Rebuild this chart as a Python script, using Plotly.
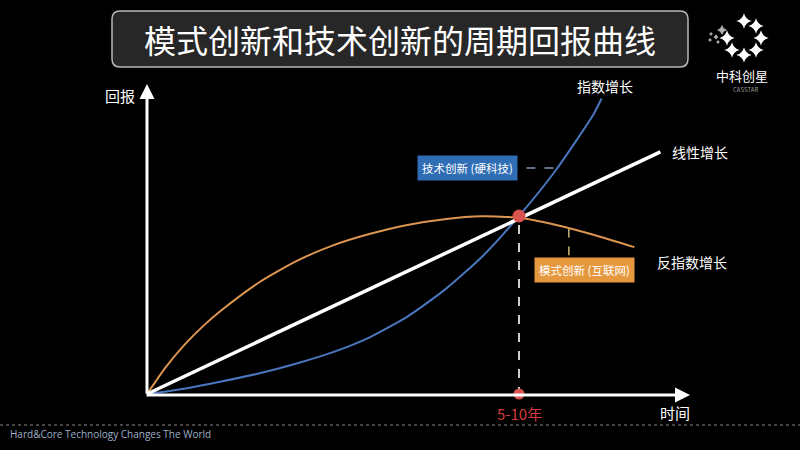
import math
import plotly.graph_objects as go

# ── Data (arbitrary units: crossing point = (10, 10)) ──
t_model = [0, 0.5, 1, 1.5, 2, 3, 4, 5, 6, 7, 8, 9, 10, 11, 12, 13.1]
r_model = [0, 1.5, 2.75, 3.8, 4.7, 6.25, 7.45, 8.35, 9.0, 9.5, 9.82, 9.98, 9.9, 9.5, 8.95, 8.25]

t_tech = [0, 1, 2, 3, 4, 5, 6, 7, 8, 9, 10, 11, 12, 12.22]
r_tech = [0, 0.3, 0.7, 1.15, 1.7, 2.35, 3.2, 4.35, 5.85, 7.7, 10.0, 12.6, 15.7, 16.6]

t_linear = [0, 13.8]
r_linear = [0, 13.6]

cross_t, cross_r = 10.0, 10.0
cross_label = "5-10年"

W, H = 800, 450
OX, OY = 147, 394          # pixel position of the origin
SX, SY = 37.2, 17.8        # pixels per unit


def paper(px, py):
    return px / W, 1 - py / H


fig = go.Figure()

# curves
fig.add_trace(go.Scatter(x=t_model, y=r_model, mode="lines",
                         line=dict(color="#dc9550", width=2, shape="spline", smoothing=0.6)))
fig.add_trace(go.Scatter(x=t_tech, y=r_tech, mode="lines",
                         line=dict(color="#4a76bd", width=2, shape="spline", smoothing=0.6)))
fig.add_trace(go.Scatter(x=t_linear, y=r_linear, mode="lines",
                         line=dict(color="white", width=3.5)))

# dashed guides
fig.add_trace(go.Scatter(x=[cross_t, cross_t], y=[cross_r - 0.5, 0], mode="lines",
                         line=dict(color="#cfcfcf", width=2, dash="dash")))
fig.add_trace(go.Scatter(x=[11.34, 11.34], y=[9.3, 7.8], mode="lines",
                         line=dict(color="#c9b679", width=1.5, dash="dash")))
fig.add_trace(go.Scatter(x=[10.2, 11.0], y=[12.7, 12.7], mode="lines",
                         line=dict(color="#8797ad", width=1.5, dash="dash")))

# crossing markers
fig.add_trace(go.Scatter(x=[cross_t], y=[cross_r], mode="markers",
                         marker=dict(color="#d9534f", size=13)))
fig.add_trace(go.Scatter(x=[cross_t], y=[0], mode="markers",
                         marker=dict(color="#d9534f", size=11)))

# logo stars (decoration)
cx, cy, rad = 744, 38, 17
star_x, star_y = [], []
for k in range(8):
    if k == 7:
        continue
    a = math.radians(90 - 45 * k)
    star_x.append((cx + rad * math.cos(a) - OX) / SX)
    star_y.append((OY - (cy - rad * math.sin(a))) / SY)
fig.add_trace(go.Scatter(x=star_x, y=star_y, mode="markers", cliponaxis=False,
                         marker=dict(symbol="star-diamond", color="white", size=11, line=dict(width=0))))
dots_px = [(722, 30, 6), (716, 37, 3), (711, 34, 2), (718, 42, 2), (710, 40, 2)]
fig.add_trace(go.Scatter(x=[(p[0] - OX) / SX for p in dots_px],
                         y=[(OY - p[1]) / SY for p in dots_px], mode="markers", cliponaxis=False,
                         marker=dict(symbol="star-diamond", color="white", size=[p[2] for p in dots_px])))

# title box with rounded corners
x0, x1, y0, y1, rr = 112, 688, 11, 67, 8


def pp(px, py):
    x, y = paper(px, py)
    return f"{x},{y}"


path = (f"M {pp(x0 + rr, y0)} L {pp(x1 - rr, y0)} Q {pp(x1, y0)} {pp(x1, y0 + rr)} "
        f"L {pp(x1, y1 - rr)} Q {pp(x1, y1)} {pp(x1 - rr, y1)} "
        f"L {pp(x0 + rr, y1)} Q {pp(x0, y1)} {pp(x0, y1 - rr)} "
        f"L {pp(x0, y0 + rr)} Q {pp(x0, y0)} {pp(x0 + rr, y0)} Z")
fig.add_shape(type="path", path=path, xref="paper", yref="paper",
              fillcolor="#272727", line=dict(color="#b8b8b8", width=1.5), layer="below")

# footer dotted rule
fig.add_shape(type="line", xref="paper", yref="paper", x0=0, x1=1,
              y0=paper(0, 425)[1], y1=paper(0, 425)[1],
              line=dict(color="#8a8a8a", width=1, dash="dot"))

CJK = "Noto Sans CJK SC"


def label(text, px, py, size=14, color="white", **kw):
    x, y = paper(px, py)
    fig.add_annotation(x=x, y=y, xref="paper", yref="paper", text=text, showarrow=False,
                       xanchor="center", yanchor="middle",
                       font=dict(family=CJK, size=size, color=color), **kw)


label("模式创新和技术创新的周期回报曲线", 400, 39, size=32)
label("回报", 120, 95, size=15)
label("时间", 675, 412, size=15)
label("指数增长", 605, 86, size=14)
label("线性增长", 700, 152, size=14)
label("反指数增长", 692, 262, size=14)
label("中科创星", 742, 76, size=13)
label("CASSTAR", 745, 90, size=6, color="#9a9a9a")
label("技术创新 (硬科技)", 467, 168, size=11.5, bgcolor="#2f6db4", borderpad=4)
label("模式创新 (互联网)", 584, 270, size=11.5, bgcolor="#e6983e", borderpad=4)
fig.add_annotation(x=8 / W, y=paper(0, 434)[1], xref="paper", yref="paper",
                   xanchor="left", yanchor="middle",
                   text="Hard&Core Technology Changes The World", showarrow=False,
                   font=dict(family="Open Sans", size=10, color="#9fb0c8"))
fig.add_annotation(x=cross_t, y=-1.1, text=cross_label, showarrow=False,
                   xanchor="center", yanchor="middle",
                   font=dict(family=CJK, size=15, color="#d63b3b"))

# axis arrows
xt, yt = paper(147, 84)
fig.add_annotation(x=xt, y=yt, xref="paper", yref="paper", ax=0, ay=311, text="",
                   showarrow=True, arrowhead=2, arrowsize=1, arrowwidth=3, arrowcolor="white")
xt, yt = paper(690, 395)
fig.add_annotation(x=xt, y=yt, xref="paper", yref="paper", ax=-545, ay=0, text="",
                   showarrow=True, arrowhead=2, arrowsize=1, arrowwidth=3, arrowcolor="white")

fig.update_layout(
    width=W, height=H,
    margin=dict(l=0, r=0, t=0, b=0),
    paper_bgcolor="black", plot_bgcolor="black",
    showlegend=False,
    xaxis=dict(range=[-OX / SX, (W - OX) / SX], visible=False, fixedrange=True),
    yaxis=dict(range=[-(H - OY) / SY, OY / SY], visible=False, fixedrange=True),
)

fig.write_html("out.html", config={"displayModeBar": False},
               post_script="document.body.style.margin='0';document.body.style.background='black';")
